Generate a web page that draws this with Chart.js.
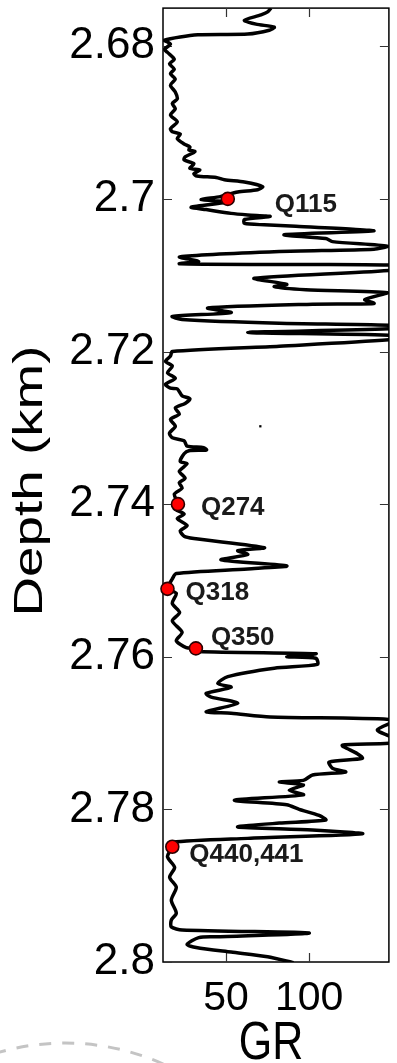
<!DOCTYPE html>
<html>
<head>
<meta charset="utf-8">
<script src="https://cdn.jsdelivr.net/npm/chart.js@4.4.1/dist/chart.umd.min.js"></script>
<style>
  html, body { margin: 0; padding: 0; background: #fff; }
  #wrap { width: 397px; height: 1063px; position: relative; }
</style>
</head>
<body>
<div id="wrap"><canvas id="logChart"></canvas></div>
<script>
// gamma ray log, GR (API) against depth (km)
const grValues = [
  77, 75, 71, 61, 68, 79, 76, 63, 33, 12.9,
  16.5, 12.9, 14.7, 18.8, 15.9, 18.8, 16.5, 19.4, 16.5, 19.4,
  20.6, 17.6, 19.4, 16.5, 20.6, 16.5, 17.6, 22.4, 20.6, 24.7,
  28.2, 27.6, 31.2, 25.3, 24.7, 30.6, 28.2, 34.1, 30.6, 32.4,
  44, 49, 61, 72, 69, 57, 46.5, 35, 51, 29,
  38, 53, 63, 76.5, 61, 61, 73, 92, 139, 85,
  110, 114, 147, 139, 82, 22, 33.5, 22, 82, 152,
  152, 67, 86.5, 79, 98, 147, 133.5, 139, 102, 39,
  53, 17.6, 23.5, 82, 152, 152, 63, 152, 152, 82,
  17.6, 16.5, 13.5, 17.6, 14.7, 19.4, 13.5, 16.5, 20.6, 23.5,
  28.2, 25.3, 19.4, 21.8, 16.5, 19.4, 15.9, 17.6, 24.7, 26.5,
  36.5, 38.2, 27.6, 24.7, 22.4, 26.5, 21.8, 25.3, 21.8, 23.5,
  18.8, 21.2, 18.8, 24.7, 20.6, 26.5, 22.4, 24.7, 30.6, 73,
  57, 63, 47, 86.5, 63, 20, 17.6, 14.7, 20, 17.6,
  22, 17.6, 23.5, 20, 26, 31.8, 33.5, 104, 86.5, 104,
  105, 79, 51, 45, 53, 38, 41, 57, 38, 53,
  76.5, 152, 141, 150, 150, 120, 129, 132, 112, 114,
  122, 102, 96.5, 82, 96.5, 88, 96.5, 55, 86.5, 94,
  106, 110, 82, 57, 102, 132, 63, 17.6, 17.6, 14.7,
  19, 16, 20, 17, 20, 17, 17, 23.5, 100, 43.5,
  33.5, 26.5, 32, 53, 75, 90.6
];
const depthValues = [
  2.6750, 2.6755, 2.6759, 2.6766, 2.6771, 2.6775, 2.6779, 2.6784, 2.6785, 2.6792,
  2.6797, 2.6804, 2.6808, 2.6817, 2.6823, 2.6830, 2.6836, 2.6843, 2.6851, 2.6860,
  2.6869, 2.6875, 2.6882, 2.6890, 2.6899, 2.6908, 2.6912, 2.6915, 2.6921, 2.6928,
  2.6932, 2.6936, 2.6938, 2.6945, 2.6949, 2.6954, 2.6960, 2.6962, 2.6967, 2.6970,
  2.6972, 2.6975, 2.6978, 2.6984, 2.6988, 2.6991, 2.6997, 2.7001, 2.7004, 2.7011,
  2.7014, 2.7019, 2.7021, 2.7023, 2.7027, 2.7032, 2.7034, 2.7036, 2.7042, 2.7047,
  2.7052, 2.7056, 2.7062, 2.7066, 2.7069, 2.7076, 2.7082, 2.7085, 2.7086, 2.7087,
  2.7093, 2.7104, 2.7112, 2.7115, 2.7119, 2.7123, 2.7132, 2.7137, 2.7138, 2.7143,
  2.7149, 2.7154, 2.7158, 2.7163, 2.7166, 2.7170, 2.7175, 2.7179, 2.7184, 2.7193,
  2.7200, 2.7206, 2.7213, 2.7219, 2.7228, 2.7235, 2.7243, 2.7248, 2.7249, 2.7258,
  2.7262, 2.7268, 2.7274, 2.7282, 2.7289, 2.7298, 2.7307, 2.7313, 2.7317, 2.7324,
  2.7326, 2.7329, 2.7330, 2.7334, 2.7344, 2.7347, 2.7357, 2.7366, 2.7372, 2.7379,
  2.7387, 2.7400, 2.7406, 2.7413, 2.7419, 2.7428, 2.7435, 2.7442, 2.7445, 2.7457,
  2.7461, 2.7466, 2.7473, 2.7481, 2.7485, 2.7491, 2.7498, 2.7511, 2.7517, 2.7530,
  2.7542, 2.7553, 2.7568, 2.7579, 2.7588, 2.7589, 2.7593, 2.7596, 2.7600, 2.7602,
  2.7610, 2.7615, 2.7626, 2.7635, 2.7640, 2.7648, 2.7653, 2.7661, 2.7672, 2.7674,
  2.7679, 2.7683, 2.7696, 2.7706, 2.7713, 2.7716, 2.7727, 2.7733, 2.7738, 2.7746,
  2.7751, 2.7755, 2.7762, 2.7764, 2.7768, 2.7775, 2.7781, 2.7788, 2.7794, 2.7800,
  2.7808, 2.7814, 2.7818, 2.7823, 2.7827, 2.7832, 2.7838, 2.7843, 2.7849, 2.7862,
  2.7876, 2.7889, 2.7902, 2.7919, 2.7936, 2.7945, 2.7954, 2.7958, 2.7962, 2.7967,
  2.7968, 2.7977, 2.7981, 2.7987, 2.7993, 2.8001
];

// sampled core plugs
const sampleNames = ['Q115', 'Q274', 'Q318', 'Q350', 'Q440,441'];
const sampleGR = [51, 21, 14.7, 31.8, 17.6];
const sampleDepth = [2.7000, 2.7400, 2.7511, 2.7589, 2.7849];

// lone stray reading
const strayGR = [70.6];
const strayDepth = [2.7298];

const depthTicks = [2.68, 2.7, 2.72, 2.74, 2.76, 2.78, 2.8];
const grTicks = [50, 100];

// label placement relative to each sample dot (px)
const labelShift = [[47, 6], [23, 4], [18, 4], [15, -11], [17, 8]];

const FONT = "'Liberation Sans', Arial, sans-serif";

const logFrame = {
  id: 'logFrame',
  beforeDatasetsDraw(chart) {
    const { ctx, chartArea: a, scales: { x, y } } = chart;
    ctx.save();
    ctx.strokeStyle = '#000';
    ctx.lineWidth = 1.5;
    ctx.strokeRect(a.left, a.top, a.right - a.left, a.bottom - a.top);
    // inward ticks on all four sides
    ctx.lineWidth = 1.2;
    ctx.strokeStyle = '#333';
    ctx.beginPath();
    depthTicks.forEach(v => {
      const py = Math.round(y.getPixelForValue(v)) + 0.5;
      ctx.moveTo(a.left, py); ctx.lineTo(a.left + 9, py);
      ctx.moveTo(a.right, py); ctx.lineTo(a.right - 9, py);
    });
    grTicks.forEach(v => {
      const px = Math.round(x.getPixelForValue(v)) + 0.5;
      ctx.moveTo(px, a.top); ctx.lineTo(px, a.top + 9);
      ctx.moveTo(px, a.bottom); ctx.lineTo(px, a.bottom - 9);
    });
    ctx.stroke();
    ctx.restore();
  },
  afterDatasetsDraw(chart) {
    const { ctx, scales: { x, y } } = chart;
    ctx.save();
    ctx.font = 'bold 26px ' + FONT;
    ctx.fillStyle = '#1a1a1a';
    ctx.textAlign = 'left';
    ctx.textBaseline = 'middle';
    sampleNames.forEach((name, i) => {
      const px = x.getPixelForValue(sampleGR[i]) + labelShift[i][0];
      const py = y.getPixelForValue(sampleDepth[i]) + labelShift[i][1];
      ctx.fillText(name, px, py);
    });
    ctx.restore();
  },
  afterDraw(chart) {
    const { ctx, chartArea: a } = chart;
    ctx.save();
    ctx.fillStyle = '#000';
    ctx.textAlign = 'center';
    ctx.textBaseline = 'alphabetic';
    // y axis title, rotated and drawn a little wide
    ctx.save();
    ctx.translate(42, 481);
    ctx.rotate(-Math.PI / 2);
    ctx.scale(1.37, 1);
    ctx.font = '40px ' + FONT;
    ctx.fillText('Depth (km)', 0, 0);
    ctx.restore();
    // x axis title
    ctx.save();
    ctx.translate((a.left + a.right) / 2 - 5, 1059);
    ctx.scale(1, 1.23);
    ctx.font = '43px ' + FONT;
    ctx.fillText('GR', 0, 0);
    ctx.restore();
    // faint dashed guide arc in the lower left corner
    ctx.strokeStyle = '#c4c4c4';
    ctx.lineWidth = 3;
    ctx.setLineDash([12, 11]);
    ctx.filter = 'blur(0.6px)';
    ctx.beginPath();
    ctx.arc(65, 1283, 240, -1.87, -1.07);
    ctx.stroke();
    ctx.restore();
  }
};

const ctx = document.getElementById('logChart').getContext('2d');
new Chart(ctx, {
  type: 'scatter',
  data: {
    datasets: [
      {
        label: 'GR',
        data: grValues.map((g, i) => ({ x: g, y: depthValues[i] })),
        showLine: true,
        borderColor: '#000',
        borderWidth: 3.5,
        pointRadius: 0,
        tension: 0.25,
        order: 2
      },
      {
        label: 'stray',
        data: strayGR.map((g, i) => ({ x: g, y: strayDepth[i] })),
        pointStyle: 'rect',
        pointRadius: 1.6,
        backgroundColor: '#000',
        borderWidth: 0,
        order: 1
      },
      {
        label: 'samples',
        data: sampleGR.map((g, i) => ({ x: g, y: sampleDepth[i] })),
        pointRadius: 6.5,
        backgroundColor: '#ff0000',
        borderColor: '#2a0000',
        borderWidth: 1.6,
        clip: false,
        order: 0
      }
    ]
  },
  options: {
    responsive: true,
    maintainAspectRatio: false,
    animation: false,
    devicePixelRatio: 1,
    layout: { padding: { left: 0, top: 6, right: 1, bottom: 0 } },
    plugins: {
      legend: { display: false },
      tooltip: { enabled: false }
    },
    scales: {
      x: {
        type: 'linear',
        position: 'bottom',
        min: 12,
        max: 148,
        grid: { display: false, drawTicks: false },
        border: { display: false },
        ticks: {
          color: '#000',
          padding: 12,
          maxRotation: 0,
          autoSkip: false,
          font: { family: FONT, size: 41 }
        },
        afterBuildTicks: axis => { axis.ticks = grTicks.map(v => ({ value: v })); },
        afterFit: axis => {
          axis.height = 101;
          axis.paddingLeft = 0;
          axis.paddingRight = 0;
        }
      },
      y: {
        type: 'linear',
        min: 2.675,
        max: 2.8,
        reverse: true,
        grid: { display: false, drawTicks: false },
        border: { display: false },
        ticks: {
          color: '#000',
          padding: 8,
          autoSkip: false,
          font: { family: FONT, size: 44 },
          callback: v => String(+v.toFixed(2))
        },
        afterBuildTicks: axis => { axis.ticks = depthTicks.map(v => ({ value: v })); },
        afterFit: axis => {
          axis.width = 163;
          axis.paddingTop = 0;
          axis.paddingBottom = 0;
        }
      }
    }
  },
  plugins: [logFrame]
});
</script>
</body>
</html>
